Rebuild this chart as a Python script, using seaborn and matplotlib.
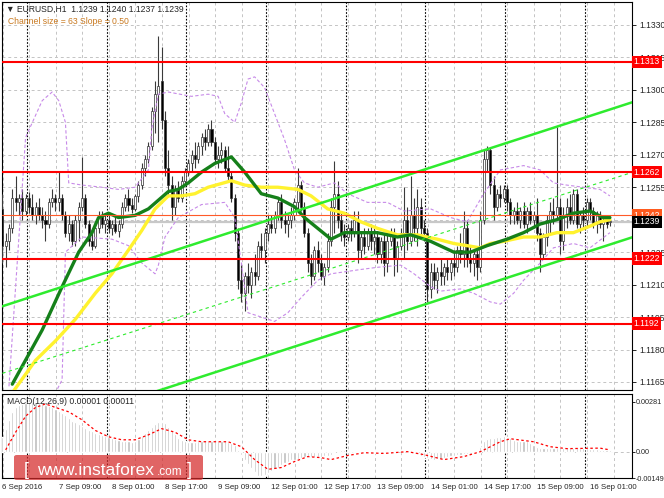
import numpy as np
import matplotlib
matplotlib.use("Agg")
import matplotlib.pyplot as plt
from matplotlib.patches import FancyBboxPatch
import seaborn as sns

# EURUSD H1, 6 Sep 16:00 .. 16 Sep 07:00 -- prices are pips above BASE
BASE = 1.1200
PIP = 0.0001

opens = [45, 28, 30, 36, 50, 48, 50, 44, 50, 46,
         42, 46, 42, 40, 38, 48, 50, 48, 50, 42,
         34, 38, 30, 40, 46, 50, 38, 30, 28, 36,
         42, 38, 40, 36, 38, 35, 38, 46, 50, 47,
         45, 51, 56, 64, 68, 74, 90, 98, 104, 86,
         64, 56, 46, 54, 50, 58, 62, 66, 70, 68,
         74, 78, 76, 82, 76, 68, 70, 72, 64, 60,
         50, 34, 12, 6, 14, 10, 16, 14, 28, 26,
         34, 38, 36, 42, 48, 40, 38, 40, 42, 48,
         56, 46, 34, 20, 14, 26, 20, 14, 18, 30,
         46, 52, 40, 34, 32, 36, 34, 40, 26, 32,
         28, 34, 30, 32, 24, 30, 20, 30, 34, 22,
         28, 34, 40, 30, 42, 36, 46, 36, 34, 8,
         16, 12, 16, 14, 18, 16, 20, 18, 26, 24,
         36, 22, 20, 24, 18, 40, 68, 72, 56, 46,
         52, 50, 54, 48, 42, 44, 40, 44, 38, 44,
         40, 42, 34, 24, 32, 40, 44, 42, 46, 30,
         42, 46, 40, 52, 38, 42, 40, 48, 44, 38,
         42, 38, 40, 39]
highs = [52, 34, 38, 54, 60, 52, 54, 52, 53, 52,
         48, 50, 46, 44, 50, 54, 52, 62, 52, 44,
         42, 40, 42, 48, 69, 52, 40, 34, 38, 44,
         44, 42, 42, 40, 42, 40, 48, 52, 54, 50,
         52, 58, 66, 70, 76, 92, 104, 125, 120, 90,
         72, 60, 56, 58, 60, 64, 68, 72, 76, 76,
         80, 82, 84, 86, 78, 74, 76, 74, 74, 62,
         52, 36, 20, 16, 20, 18, 24, 30, 34, 36,
         42, 42, 44, 50, 52, 44, 42, 46, 50, 64,
         58, 48, 36, 24, 28, 30, 24, 20, 34, 50,
         67, 58, 44, 38, 38, 40, 44, 44, 34, 36,
         36, 38, 36, 34, 32, 34, 34, 36, 36, 30,
         36, 55, 46, 60, 50, 54, 50, 40, 36, 20,
         20, 18, 22, 20, 22, 22, 26, 28, 34, 44,
         40, 28, 26, 28, 44, 72, 74, 73, 60, 54,
         56, 56, 56, 50, 46, 48, 46, 48, 46, 48,
         44, 50, 36, 34, 42, 48, 50, 83, 50, 46,
         50, 52, 54, 54, 44, 46, 50, 50, 46, 44,
         44, 42, 42, 40]
lows = [20, 18, 26, 34, 44, 42, 40, 42, 43, 40,
        38, 40, 36, 30, 36, 46, 44, 44, 40, 32,
        30, 28, 28, 30, 44, 36, 28, 26, 27, 34,
        36, 34, 34, 33, 34, 32, 36, 44, 44, 43,
        44, 48, 54, 60, 66, 72, 80, 76, 82, 60,
        52, 40, 42, 48, 48, 56, 60, 62, 64, 66,
        70, 72, 74, 74, 66, 64, 66, 62, 58, 48,
        30, 8, 2, -2, 6, 4, 10, 12, 22, 20,
        30, 34, 34, 40, 36, 34, 32, 36, 40, 44,
        44, 32, 16, 10, 12, 16, 12, 10, 16, 28,
        34, 36, 30, 28, 30, 30, 32, 20, 22, 24,
        26, 26, 24, 20, 20, 14, 16, 28, 14, 16,
        26, 22, 26, 28, 30, 28, 32, 30, 2, 4,
        8, 6, 10, 10, 12, 12, 14, 16, 20, 18,
        18, 16, 14, 12, 16, 38, 62, 52, 40, 44,
        46, 48, 44, 38, 38, 38, 36, 36, 34, 38,
        36, 30, 16, 22, 28, 34, 38, 40, 24, 26,
        36, 38, 38, 36, 34, 36, 36, 40, 36, 34,
        36, 30, 36, 37]
closes = [28, 30, 36, 50, 48, 50, 44, 50, 46, 42,
          46, 42, 40, 38, 48, 50, 48, 50, 42, 34,
          38, 30, 40, 46, 50, 38, 30, 28, 36, 42,
          38, 40, 36, 38, 35, 38, 46, 50, 47, 45,
          51, 56, 64, 68, 74, 90, 98, 102, 86, 64,
          56, 46, 54, 50, 58, 62, 66, 70, 68, 74,
          78, 76, 82, 76, 68, 70, 72, 64, 60, 50,
          34, 12, 6, 14, 10, 16, 14, 28, 26, 34,
          38, 36, 42, 48, 40, 38, 40, 42, 48, 56,
          46, 34, 20, 14, 26, 20, 14, 18, 30, 46,
          52, 40, 34, 32, 36, 34, 40, 26, 32, 28,
          34, 30, 32, 24, 30, 20, 30, 34, 22, 28,
          34, 40, 30, 42, 36, 46, 36, 34, 8, 16,
          12, 16, 14, 18, 16, 20, 18, 26, 24, 36,
          22, 20, 24, 18, 40, 68, 72, 56, 46, 52,
          50, 54, 48, 42, 44, 40, 44, 38, 44, 40,
          42, 34, 24, 32, 40, 44, 42, 46, 30, 42,
          46, 40, 52, 38, 42, 40, 48, 44, 38, 42,
          38, 40, 38, 39]

# moving averages (bar index, pips)
ma_green_bar = [3, 12, 18, 23, 27, 29, 32, 35, 40, 44, 50, 53, 56, 60, 64, 69, 73, 78, 83, 88,
                91, 95, 99, 103, 107, 113, 119, 123, 129, 136, 141, 146, 152, 157, 162, 167,
                172, 177, 181, 183]
ma_green = [-36, -11, 9, 25, 34, 41, 43, 41, 42, 45, 53, 54, 57, 62, 66, 69, 62, 52, 50, 46,
            41, 36, 31, 34, 34, 34, 32, 33, 30, 25, 25, 28, 31, 34, 38, 40, 43, 44, 41, 41]
ma_yellow_bar = [3, 10, 16, 22, 28, 33, 38, 42, 46, 50, 54, 58, 62, 69, 73, 78, 83, 89, 93, 98,
                 103, 108, 113, 119, 125, 131, 136, 144, 147, 151, 157, 162, 167, 172, 177,
                 180, 183]
ma_yellow = [-40, -25, -16, -6, 6, 15, 26, 35, 45, 51, 51, 52, 55, 58, 56, 55, 55, 54, 51, 45,
             43, 39, 36, 33, 33, 31, 29, 27, 29, 30, 32, 32, 34, 34, 37, 39, 40]

# bands
band_up_bar = [2, 6, 7, 12, 15, 17, 19, 20, 24, 30, 35, 40, 44, 45, 47, 50, 57, 62, 65, 67,
               70, 72, 74, 76, 79, 82, 85, 88, 91, 95, 100, 104, 110, 116, 121, 129, 135, 140,
               145, 150, 157, 162, 166, 170, 175, 180, 183]
band_up = [-37, 55, 78, 95, 99, 95, 85, 57, 56, 55, 54, 55, 63, 82, 98, 99, 97, 98, 97, 89,
           85, 94, 105, 106, 101, 89, 77, 63, 57, 55, 57, 52, 48, 48, 44, 45, 41, 39,
           52, 63, 65, 63, 57, 56, 55, 54, 51]
band_lo_bar = [9, 16, 18, 19, 24, 33, 38, 42, 46, 47, 49, 53, 60, 67, 70, 72, 74, 78, 82, 86,
               90, 95, 99, 108, 113, 120, 124, 129, 132, 138, 142, 147, 150, 154, 157, 162,
               166, 172, 177, 183]
band_lo = [-40, -40, -34, 25, 32, 31, 28, 20, 15, 19, 32, 41, 47, 48, 41, 20, -3, -5, -7, -3,
           4, 12, 15, 17, 18, 19, 15, 9, 7, 8, 6, 2, 1, 6, 12, 20, 27, 29, 27, 34]

# regression channel (end points, bar index / pips)
chan_bar = [0, 190]
chan_top = [0.0, 94.4]
chan_mid = [-31.0, 62.0]
chan_low_bar = [45, 190]
chan_low = [-40.0, 32.0]

levels = [1.1313, 1.1262, 1.1222, 1.1192]
ask_price = 1.1242
bid_price = 1.1239
price_ticks = [1.1165, 1.1180, 1.1195, 1.1210, 1.1225, 1.1240, 1.1255, 1.1270,
               1.1285, 1.1300, 1.1315, 1.1330]
hidden_ticks = [1.1240]   # fully covered by the bid/ask boxes

# MACD histogram, units of 1e-5
macd_hist = [84, 130, 180, 225, 250, 265, 272, 276, 278, 280, 278, 275,
             272, 265, 258, 250,
             240, 230, 220, 205, 190,
             175, 165, 155, 145, 135, 125,
             115, 108, 100, 95, 88, 82,
             75, 70, 66, 62, 60, 58, 57, 58,
             70, 90, 105, 120,
             140, 155, 165, 170,
             160, 140, 120, 100,
             80, 68, 60, 56, 54,
             56, 58, 60, 62, 62, 62, 60, 60, 58, 58, 56, 50, 40,
             10,
             -20, -50, -70, -90, -115,
             -140,
             -135, -130, -120, -110, -100,
             -90, -75, -65, -60, -50, -45,
             -40, -35, -30, -30, -28, -30, -30, -28, -25, -22, -18,
             -10, 5, 10, 8, 5, 0, -5, -8, -10, -5, -2, -8, -10,
             -5, 0, 3, 5, 4, 2, 0, -2, 0, 3, 5,
             -8, -15, -22, -30, -38, -42, -45, -44, -40, -35, -30,
             -25, -22, -20, -18, -15, -12, -12, -10, -8,
             25,
             60, 72, 78, 80, 82,
             85, 86, 84,
             75, 68, 62, 58, 60, 58, 50,
             35, 25, 20, 18, 18, 20, 20, 22, 25,
             22, 22, 22, 22, 20, 20, 18, 18, 16, 15, 14, 12, 12, 10, 8]
signal_bar = [1, 4, 7, 10, 13, 16, 20, 24, 28, 32, 36, 40, 44, 48, 52, 56, 60, 68, 72, 76,
              80, 84, 88, 92, 96, 99, 104, 109, 115, 122, 127, 133, 139, 144, 150, 153, 160,
              165, 170, 180, 183]
signal_val = [10, 110, 200, 250, 270, 250, 225, 180, 120, 84, 67, 67, 95, 130, 110, 67, 56,
              56, 28, -45, -100, -90, -56, -28, -34, -45, -22, -6, -10, 0, -17, -45, -28, 0,
              56, 73, 56, 28, 17, 20, 10]

date_ticks = [0, 17, 33, 49, 65, 81, 97, 113, 129, 145, 161, 177]
date_labels = ["6 Sep 2016", "7 Sep 09:00", "8 Sep 01:00", "8 Sep 17:00", "9 Sep 09:00",
               "12 Sep 01:00", "12 Sep 17:00", "13 Sep 09:00", "14 Sep 01:00",
               "14 Sep 17:00", "15 Sep 09:00", "16 Sep 01:00"]
day_starts = [8, 32, 56, 80, 104, 128, 152, 176]


def px(v):
    return BASE + np.asarray(v, dtype=float) * PIP


sns.set_style("white")
plt.rcParams["font.family"] = ["Liberation Sans", "DejaVu Sans"]
FS = 6.2

fig = plt.figure(figsize=(6.64, 4.98), dpi=100)
ax = fig.add_axes([2 / 664, 108 / 498, 630 / 664, 388 / 498])
ax2 = fig.add_axes([2 / 664, 20 / 498, 630 / 664, 84 / 498], sharex=ax)

grid_kw = dict(color="#C4C4C4", lw=0.7, linestyle=(0, (3, 3)), zorder=0)
for a in (ax, ax2):
    for b in range(0, 192, 8):
        a.axvline(b + 0.1, **grid_kw)
    for b in day_starts:
        a.axvline(b - 0.6, color="black", lw=0.8, linestyle=(0, (1.5, 1.5)), zorder=0.5)
    for s in a.spines.values():
        s.set_color("black")
        s.set_linewidth(0.8)
for p in price_ticks:
    ax.axhline(p, **grid_kw)

# candles
bars = np.arange(len(closes))
o, h, l, c = px(opens), px(highs), px(lows), px(closes)
h = np.maximum(h, np.maximum(o, c))
l = np.minimum(l, np.minimum(o, c))
ax.vlines(bars, l, h, color="#3A3A3A", lw=0.8, zorder=3)
body = c - o
body = np.where(np.abs(body) < 0.3 * PIP, 0.3 * PIP, body)
colors = np.where(c >= o, "white", "black")
ax.bar(bars, body, bottom=o, width=0.62, color=colors, edgecolor="#303030",
       linewidth=0.5, zorder=3.5)

# indicators
band_kw = dict(color="#C78AE8", lw=0.8, linestyle=(0, (3, 2)), zorder=4)
sns.lineplot(x=band_up_bar, y=px(band_up), ax=ax, estimator=None, **band_kw)
sns.lineplot(x=band_lo_bar, y=px(band_lo), ax=ax, estimator=None, **band_kw)
sns.lineplot(x=ma_yellow_bar, y=px(ma_yellow), ax=ax, estimator=None,
             color="#FFF22E", lw=2.4, zorder=4.5)
sns.lineplot(x=ma_green_bar, y=px(ma_green), ax=ax, estimator=None,
             color="#15801A", lw=2.4, zorder=4.6)

# channel
lime = "#2EEB2E"
sns.lineplot(x=chan_bar, y=px(chan_top), ax=ax, estimator=None, color=lime, lw=1.8, zorder=5)
sns.lineplot(x=chan_bar, y=px(chan_mid), ax=ax, estimator=None, color=lime, lw=0.8,
             linestyle=(0, (3, 3)), zorder=5)
sns.lineplot(x=chan_low_bar, y=px(chan_low), ax=ax, estimator=None, color=lime, lw=1.8, zorder=5)

# levels
ax.axhline(bid_price, color="#C8C8C8", lw=1.6, zorder=2)
ax.axhline(ask_price, color="#FF5A28", lw=0.8, zorder=5)
for lev in levels:
    ax.axhline(lev, color="#FF0000", lw=1.5, zorder=5.5)


def price_box(a, y, fc):
    a.annotate(f"{y:.4f}", xy=(1, y), xycoords=("axes fraction", "data"),
               xytext=(1.2, 0), textcoords="offset points", ha="left", va="center",
               fontsize=FS, color="white", annotation_clip=False, zorder=10,
               bbox=dict(boxstyle="square,pad=0.2", fc=fc, ec="none"))


for lev in levels:
    price_box(ax, lev, "#FF0000")
price_box(ax, ask_price, "#FF5A1E")
price_box(ax, bid_price, "black")

ax.set_xlim(-0.1, 189.66)
ax.set_ylim(1.11613, 1.13406)
ax.yaxis.tick_right()
ax.set_yticks(price_ticks)
ax.set_yticklabels(["" if p in hidden_ticks else f"{p:.4f}" for p in price_ticks])
ax.tick_params(axis="y", labelsize=FS, length=3, width=0.7, pad=2, direction="out")
ax.tick_params(axis="x", bottom=False, labelbottom=False)
ax.set_xlabel("")
ax.set_ylabel("")

# MACD
ax2.bar(bars, np.array(macd_hist) * 1e-5, width=0.65, color="#BEBEBE", zorder=3)
ax2.axhline(0, **grid_kw)
sns.lineplot(x=signal_bar, y=np.array(signal_val) * 1e-5, ax=ax2, estimator=None,
             color="#FF0000", lw=0.9, linestyle=(0, (2, 2)), zorder=4)
ax2.set_ylim(-0.00149, 0.00326)
ax2.yaxis.tick_right()
ax2.set_yticks([0.00281, 0.0, -0.00149])
ax2.set_yticklabels(["0.00281", "0.00", "-0.00149"])
ax2.tick_params(axis="y", labelsize=5.2, length=2, width=0.7, pad=1, direction="out")
ax2.set_xticks(date_ticks)
ax2.set_xticklabels(date_labels, ha="left")
ax2.tick_params(axis="x", labelsize=5.7, length=3, width=0.7, pad=1.5, direction="out")
ax2.set_xlabel("")
ax2.set_ylabel("")
ax2.text(0.008, 0.905, "MACD(12,26,9) 0.00001 0.00011", transform=ax2.transAxes,
         fontsize=FS, va="center", ha="left", zorder=6)

# header
fig.text(6 / 664, 1 - 9 / 498,
         f"\u25bc EURUSD,H1  {px(opens[-1]):.4f} {px(highs[-1]):.4f} "
         f"{px(lows[-1]):.4f} {px(closes[-1]):.4f}",
         fontsize=FS, va="center", ha="left")
fig.text(8 / 664, 1 - 21 / 498, "Channel size = 63 Slope = 0.50", color="#C8781E",
         fontsize=FS, va="center", ha="left")

# watermark
fig.add_artist(FancyBboxPatch((14 / 664, 18 / 498), 189 / 664, 25 / 498,
                              boxstyle="round,pad=0,rounding_size=0.004",
                              transform=fig.transFigure, fc="#D42A2A", ec="none",
                              alpha=0.72, zorder=20))
base_y = 1 - 475 / 498
fig.text(24 / 664, base_y, "[", fontsize=13, color="white", va="baseline", zorder=21)
fig.text(37 / 664, base_y, "www.instaforex", fontsize=12.5, color="white",
         va="baseline", zorder=21)
fig.text(157 / 664, base_y, ".com", fontsize=8.5, color="white", va="baseline", zorder=21)
fig.text(187 / 664, base_y, "]", fontsize=13, color="white", va="baseline", zorder=21)

fig.savefig("out.png", dpi=100)
